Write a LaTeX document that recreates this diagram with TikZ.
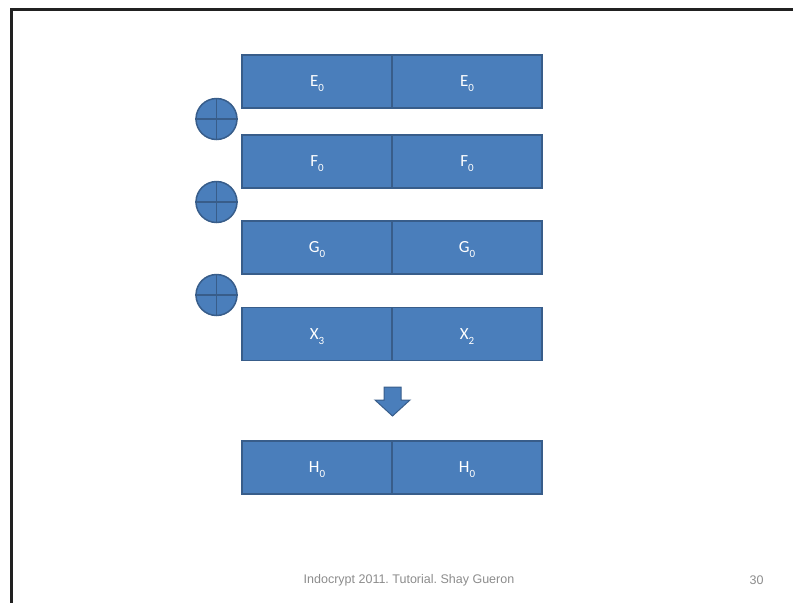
\documentclass[tikz,border=0pt]{standalone}
\usepackage{fontspec}
\setmainfont{Carlito}
\newfontfamily\footfont{Liberation Sans}
\frenchspacing
\definecolor{cellfill}{HTML}{4A7EBB}
\definecolor{celledge}{HTML}{385D8A}
\definecolor{footgray}{HTML}{8C8C8C}
\tikzset{
  cell/.style={draw=celledge, fill=cellfill, line width=1.4pt,
    minimum width=150pt, minimum height=53pt, inner sep=0pt,
    text=white, font=\fontsize{17}{19}\selectfont},
  xorop/.style={circle, draw=celledge, fill=cellfill, line width=1.5pt,
    minimum size=41pt, inner sep=0pt},
  foot/.style={text=footgray, font=\footfont\fontsize{12.5}{14}\selectfont}
}
% letter with a low, small index
\newcommand{\sub}[2]{#1\smash{\raisebox{-5pt}{\fontsize{11}{11}\selectfont #2}}}
\begin{document}
\begin{tikzpicture}[x=1pt,y=-1pt]
  \useasboundingbox (0,0) rectangle (793,603);
  % frame
  \draw[line width=3pt, color=black!87] (793,9.5) -- (11.5,9.5) -- (11.5,603);
  % rows of two cells each
  \draw
    (317,81.5) node[cell] (e0) {\sub{E}{0}}
    (467,81.5) node[cell] (e1) {\sub{E}{0}}
    (317,161.5) node[cell] (f0) {\sub{F}{0}}
    (467,161.5) node[cell] (f1) {\sub{F}{0}}
    (317,247.5) node[cell] (g0) {\sub{G}{0}}
    (467,247.5) node[cell] (g1) {\sub{G}{0}}
    (317,334) node[cell] (x0) {\sub{X}{3}}
    (467,334) node[cell] (x1) {\sub{X}{2}}
    (317,467.5) node[cell] (h0) {\sub{H}{0}}
    (467,467.5) node[cell] (h1) {\sub{H}{0}};
  % xor signs
  \foreach \name/\ypos in {p1/119, p2/202, p3/295} {
    \node[xorop] (\name) at (216.5,\ypos) {};
    \draw[celledge, line width=1.5pt] (\name.north) -- (\name.south)
      (\name.west) -- (\name.east);
  }
  % down arrow
  \draw[celledge, fill=cellfill, line width=1pt]
    (384,387) -- (401,387) -- (401,400) -- (410,400) -- (392.5,416)
    -- (375,400) -- (384,400) -- cycle;
  % footer
  \node[foot] (title) at (409,580) {Indocrypt 2011. Tutorial. Shay Gueron};
  \node[foot] (page) at (756.5,580) {30};
\end{tikzpicture}
\end{document}
